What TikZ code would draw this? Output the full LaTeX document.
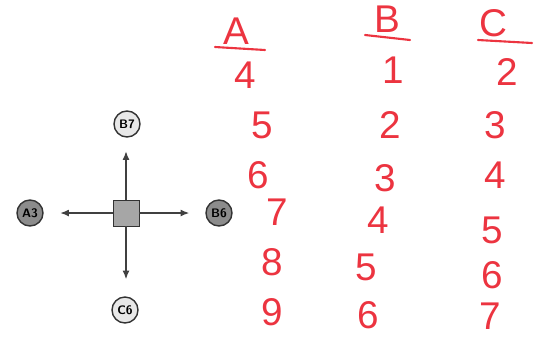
\documentclass[tikz,border=0pt]{standalone}
\usepackage{fontspec}
\usepackage{xcolor}
\usetikzlibrary{arrows.meta}
\newfontfamily\handfont{Liberation Sans}
\definecolor{inkred}{RGB}{236,52,64}
\definecolor{darkdot}{RGB}{140,140,140}
\definecolor{lightdot}{RGB}{232,232,232}

\tikzset{
  dot/.style={circle, draw=black!80, thick, minimum size=0.52cm, inner sep=0pt,
    font=\sffamily\bfseries\scriptsize},
  hand/.style={inkred, inner sep=1pt, font=\handfont\fontsize{22}{22}\selectfont},
}

\begin{document}
\begin{tikzpicture}
      \useasboundingbox (0,0) rectangle (10.92,6.74);

      \node[draw=black!80, fill=gray!70, minimum size=0.52cm](sq) at (2.52, 2.48){};

      \node[dot, fill=lightdot](b7) at (2.54, 4.26){B7};
      \node[dot, fill=darkdot](a3) at (0.6, 2.48){A3};
      \node[dot, fill=darkdot](b6) at (4.38, 2.48){B6};
      \node[dot, fill=lightdot](c6) at (2.5, 0.54){C6};

      \draw [thick, black!75, -{Latex[length=5pt,width=4pt]}, shorten >=0.27cm] (sq.north) -- (sq.north |- b7.south);
      \draw [thick, black!75, -{Latex[length=5pt,width=4pt]}, shorten >=0.33cm] (sq.west) -- (a3.east);
      \draw [thick, black!75, -{Latex[length=5pt,width=4pt]}, shorten >=0.32cm] (sq.east) -- (b6.west);
      \draw [thick, black!75, -{Latex[length=5pt,width=4pt]}, shorten >=0.34cm] (sq.south) -- (sq.south |- c6.north);

      % column heads
      \node[hand, anchor=base](colA) at (4.72, 5.86){A};
      \draw [inkred, very thick, line cap=round] (4.3, 5.8) -- (5.3, 5.74);
      \node[hand, anchor=base](colB) at (7.74, 6.1){B};
      \draw [inkred, very thick, line cap=round] (7.3, 6.04) -- (8.2, 5.94);
      \node[hand, anchor=base](colC) at (9.86, 6.02){C};
      \draw [inkred, very thick, line cap=round] (9.56, 5.94) -- (10.64, 5.88);

      % column A
      \node[hand](a1) at (4.9, 5.24){4};
      \node[hand](a2) at (5.24, 4.24){5};
      \node[hand](a3v) at (5.16, 3.24){6};
      \node[hand](a4) at (5.54, 2.5){7};
      \node[hand](a5) at (5.44, 1.5){8};
      \node[hand](a6) at (5.44, 0.5){9};

      % column B
      \node[hand](b1) at (7.86, 5.34){1};
      \node[hand](b2) at (7.8, 4.24){2};
      \node[hand](b3) at (7.7, 3.18){3};
      \node[hand](b4) at (7.56, 2.34){4};
      \node[hand](b5) at (7.32, 1.4){5};
      \node[hand](b6v) at (7.36, 0.44){6};

      % column C
      \node[hand](c1) at (10.14, 5.3){2};
      \node[hand](c2) at (9.9, 4.24){3};
      \node[hand](c3) at (9.9, 3.24){4};
      \node[hand](c4) at (9.84, 2.14){5};
      \node[hand](c5) at (9.84, 1.24){6};
      \node[hand](c6v) at (9.8, 0.42){7};
\end{tikzpicture}
\end{document}
